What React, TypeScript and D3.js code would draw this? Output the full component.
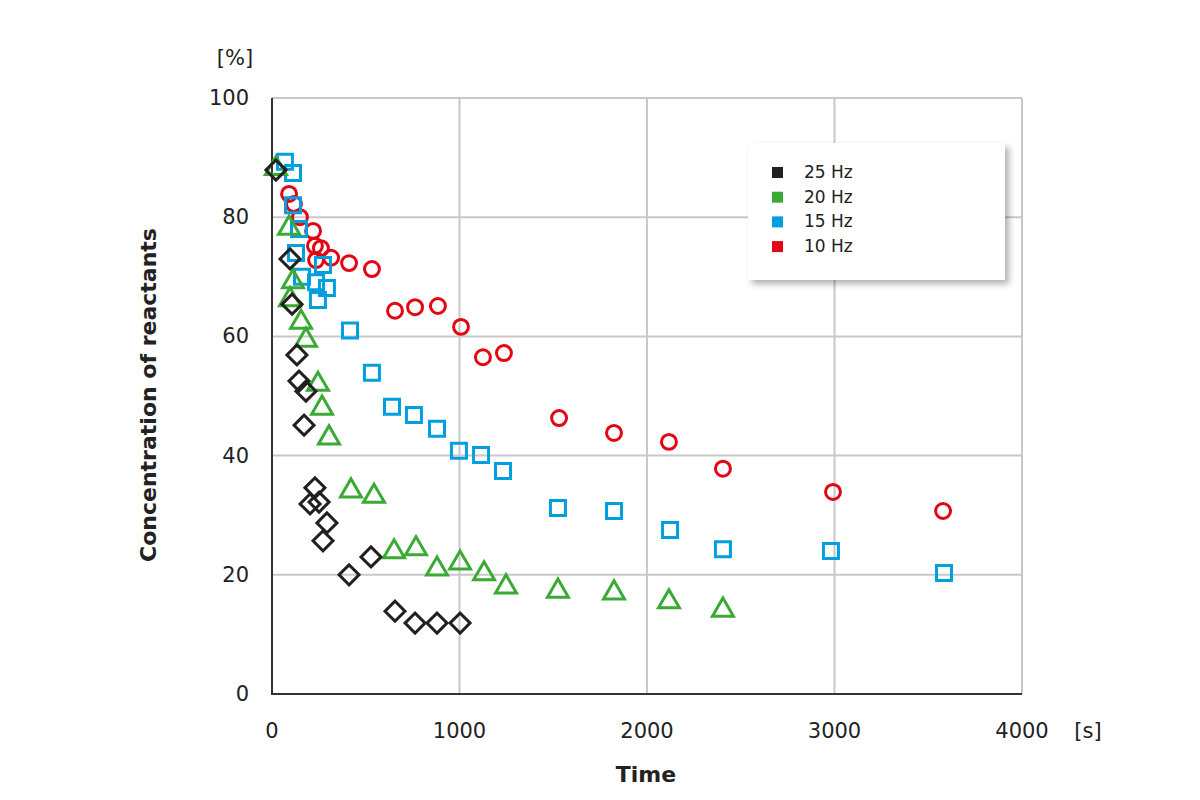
import * as d3 from "d3";
import React, { useEffect, useRef } from "react";

const hz25: [number, number][] = [[21,87.9],[96,73],[107,65.4],[133,56.9],[144,52.5],[181,50.8],[171,45.1],[229,34.6],[203,31.9],[251,32.2],[293,28.7],[272,25.7],[411,20],[528,23],[656,13.9],[763,11.9],[880,11.9],[1003,11.9]];
const hz20: [number, number][] = [[21,88],[91,78],[112,69],[96,66],[155,62.2],[181,59.2],[245,51.8],[267,47.8],[304,42.8],[421,33.9],[544,33],[651,23.7],[768,24.2],[880,20.8],[1003,21.8],[1131,20],[1248,17.8],[1525,17.1],[1824,16.8],[2117,15.3],[2405,13.9]];
const hz15: [number, number][] = [[69,89.3],[112,87.4],[112,82],[144,78],[128,74],[160,70],[235,69.1],[245,66.1],[293,68.1],[272,72],[416,61],[533,53.9],[640,48.2],[757,46.8],[880,44.5],[997,40.8],[1115,40.1],[1232,37.4],[1525,31.2],[1824,30.7],[2123,27.5],[2405,24.3],[2981,24],[3584,20.3]];
const hz10: [number, number][] = [[91,83.9],[117,82.2],[149,80],[219,77.7],[229,75.2],[261,74.8],[235,72.8],[315,73.2],[411,72.3],[533,71.3],[656,64.3],[763,64.9],[885,65.1],[1008,61.6],[1125,56.5],[1237,57.2],[1531,46.3],[1824,43.8],[2117,42.3],[2405,37.8],[2992,33.9],[3579,30.7]];
const legendLabels = ["25 Hz", "20 Hz", "15 Hz", "10 Hz"];
const colors = ["#231f20", "#3aaa35", "#00a0e0", "#e30613"];
const xTicks = [0, 1000, 2000, 3000, 4000];
const yTicks = [0, 20, 40, 60, 80, 100];

const App = () => {
  const ref = useRef<SVGSVGElement>(null);
  useEffect(() => {
    const svg = d3.select(ref.current);
    svg.selectAll("*").remove();
    const font = "DejaVu Sans, Verdana, sans-serif";
    const x = d3.scaleLinear().domain([0, 4000]).range([272, 1022]);
    const y = d3.scaleLinear().domain([0, 100]).range([694, 98]);

    const grid = svg.append("g");
    xTicks.slice(1).forEach((t) =>
      grid.append("line").attr("x1", x(t)).attr("x2", x(t)).attr("y1", 98).attr("y2", 694).attr("stroke", "#c8c8c8").attr("stroke-width", 2));
    yTicks.slice(1).forEach((t) =>
      grid.append("line").attr("x1", 272).attr("x2", 1022).attr("y1", y(t)).attr("y2", y(t)).attr("stroke", "#c8c8c8").attr("stroke-width", 2));
    svg.append("line").attr("x1", 272).attr("x2", 272).attr("y1", 98).attr("y2", 695).attr("stroke", "#333").attr("stroke-width", 2);
    svg.append("line").attr("x1", 271).attr("x2", 1022).attr("y1", 694).attr("y2", 694).attr("stroke", "#333").attr("stroke-width", 2);

    xTicks.forEach((t) =>
      svg.append("text").attr("x", x(t)).attr("y", 738).attr("text-anchor", "middle").attr("font-family", font).attr("font-size", 21).attr("fill", "#222").text(t));
    yTicks.forEach((t) =>
      svg.append("text").attr("x", 249).attr("y", y(t) + 7).attr("text-anchor", "end").attr("font-family", font).attr("font-size", 21).attr("fill", "#222").text(t));
    svg.append("text").attr("x", 235).attr("y", 65).attr("text-anchor", "middle").attr("font-family", font).attr("font-size", 21).attr("fill", "#222").text("[%]");
    svg.append("text").attr("x", 1088).attr("y", 738).attr("text-anchor", "middle").attr("font-family", font).attr("font-size", 21).attr("fill", "#222").text("[s]");
    svg.append("text").attr("x", 646).attr("y", 782).attr("text-anchor", "middle").attr("font-family", font).attr("font-size", 22).attr("font-weight", "bold").attr("fill", "#222").text("Time");
    svg.append("text").attr("transform", "translate(156,395) rotate(-90)").attr("text-anchor", "middle").attr("font-family", font).attr("font-size", 22).attr("font-weight", "bold").attr("fill", "#222").text("Concentration of reactants");

    const mk = (data: [number, number][], type: d3.SymbolType, size: number, color: string, rot = 0, dy = 0) =>
      svg.append("g").selectAll("path").data(data).enter().append("path")
        .attr("d", d3.symbol().type(type).size(size)() as string)
        .attr("transform", (d) => `translate(${x(d[0])},${y(d[1]) + dy}) rotate(${rot})`)
        .attr("fill", "none").attr("stroke", color).attr("stroke-width", 3);
    mk(hz10, d3.symbolCircle, 175, colors[3]);
    mk(hz15, d3.symbolSquare, 225, colors[2]);
    mk(hz20, d3.symbolTriangle, 190, colors[1], 0, -1);
    mk(hz25, d3.symbolSquare, 200, colors[0], 45);

    const defs = svg.append("defs");
    const f = defs.append("filter").attr("id", "sh").attr("x", "-10%").attr("y", "-10%").attr("width", "130%").attr("height", "130%");
    f.append("feDropShadow").attr("dx", 4).attr("dy", 4).attr("stdDeviation", 3).attr("flood-color", "#000").attr("flood-opacity", 0.3);
    svg.append("rect").attr("x", 748).attr("y", 143).attr("width", 257).attr("height", 137).attr("fill", "#fff").attr("filter", "url(#sh)");
    legendLabels.forEach((l, i) => {
      const ly = 172 + i * 24.7;
      svg.append("rect").attr("x", 772).attr("y", ly - 5).attr("width", 11).attr("height", 11).attr("fill", colors[i]);
      svg.append("text").attr("x", 804).attr("y", ly + 6).attr("font-family", font).attr("font-size", 17).attr("fill", "#222").text(l);
    });
  }, []);
  return <svg ref={ref} width={1200} height={800} style={{ position: "absolute", left: 0, top: 0, background: "#fff" }} />;
};

export default App;
